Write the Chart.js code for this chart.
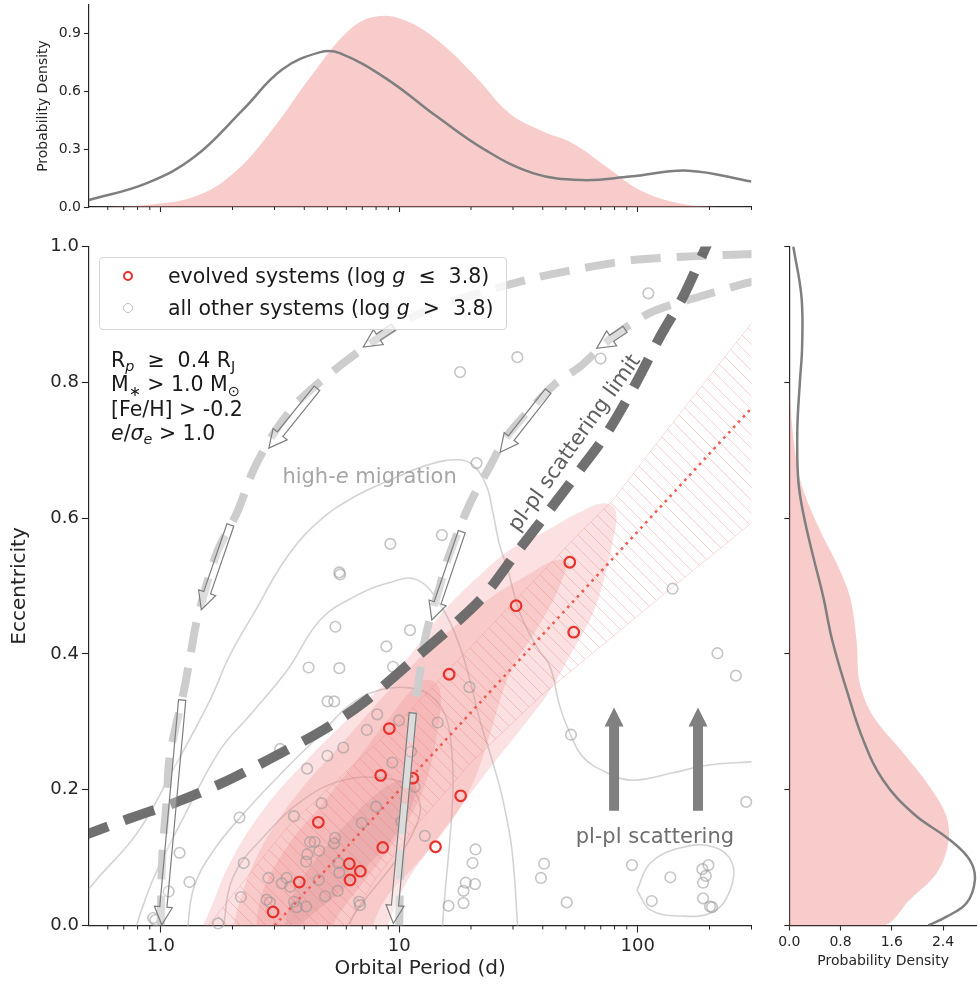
<!DOCTYPE html>
<html lang="en">
<head>
<meta charset="UTF-8">
<title>Eccentricity vs Orbital Period</title>
<script src="https://cdn.jsdelivr.net/npm/chart.js"></script>
<style>
  html, body { margin: 0; padding: 0; background: #fff; }
  body { font-family: 'DejaVu Sans', sans-serif; color: #1a1a1a; }
  #figure { position: relative; width: 977px; height: 986px; overflow: hidden; }
  #figure canvas { position: absolute; }
  #topChart { left: 0; top: 0; }
  #mainChart { left: 0; top: 230px; }
  #rightChart { left: 770px; top: 230px; }
  #legend { position: absolute; left: 99px; top: 257px; width: 406px; height: 71px;
    border: 1px solid #d6d6d6; border-radius: 4px; background: rgba(255,255,255,0.8); font-size: 20.5px; }
  #legend .row { position: absolute; left: 68px; height: 24px; line-height: 24px; white-space: nowrap; }
  #legend .mk { position: absolute; left: 23px; width: 10px; height: 10px; border-radius: 50%; box-sizing: border-box; }
  #cuts { position: absolute; left: 111px; top: 348px; font-size: 20.5px; line-height: 24.3px; white-space: nowrap; }
  #cuts sub { font-size: 0.7em; line-height: 0; vertical-align: baseline; position: relative; top: 0.3em; }
</style>
</head>
<body>
<div id="figure">
  <canvas id="topChart" width="770" height="230"></canvas>
  <canvas id="mainChart" width="770" height="756"></canvas>
  <canvas id="rightChart" width="207" height="756"></canvas>

  <div id="legend">
    <span class="mk" style="top:12.7px; border:2.2px solid #e8312a;"></span>
    <div class="row" style="top:5.7px;">evolved systems (log <i>g</i> &nbsp;≤&nbsp; 3.8)</div>
    <span class="mk" style="top:45.3px; border:1.6px solid rgba(150,150,150,0.6);"></span>
    <div class="row" style="top:38.3px;">all other systems (log <i>g</i> &nbsp;&gt;&nbsp; 3.8)</div>
  </div>

  <div id="cuts">
    R<sub><i>p</i></sub> &nbsp;≥&nbsp; 0.4 R<sub>J</sub><br>
    M<sub>∗</sub> &gt; 1.0 M<sub>⊙</sub><br>
    [Fe/H] &gt; -0.2<br>
    <i>e</i>/<i>σ</i><sub><i>e</i></sub> &gt; 1.0
  </div>
</div>

<script>
  const FONT = "'DejaVu Sans', sans-serif";
  const INK = '#262626';

  // axis ticks
  const periodMajor = [1, 10, 100];
  const periodMinor = [0.6, 0.7, 0.8, 0.9, 2, 3, 4, 5, 6, 7, 8, 9, 20, 30, 40, 50, 60, 70, 80, 90, 200, 300];
  const eccTicks = [0, 0.2, 0.4, 0.6, 0.8, 1.0];
  const topDensityTicks = [0, 0.3, 0.6, 0.9];
  const rightDensityTicks = [0, 0.8, 1.6, 2.4];

  // evolved systems (log g <= 3.8)
  const evolvedP = [51.9, 30.9, 53.9, 16.2, 9.09, 8.36, 11.4, 18.1, 4.58, 8.53, 14.2, 6.18, 6.87, 6.22, 3.81, 2.96];
  const evolvedE = [0.535, 0.471, 0.432, 0.370, 0.290, 0.221, 0.217, 0.191, 0.152, 0.115, 0.116, 0.091, 0.080, 0.067, 0.064, 0.020];

  // all other systems (log g > 3.8)
  const otherP = [110.8, 31.3, 18.0, 69.9, 9.18, 5.61, 5.65, 5.40, 11.1, 8.83, 4.17, 5.61, 9.42, 21.1, 15.1,
    216, 258, 52.5, 285, 40.5, 39.3, 50.4, 94.6, 137, 114.5, 186.6, 198, 193, 188, 188, 201, 205, 140,
    5.01, 5.34, 8.09, 9.98, 14.5, 7.31, 3.17, 5.83, 5.0, 9.36, 11.2, 4.11, 19.7, 11.6, 4.73, 8.0, 2.14, 3.62, 6.96, 10.2,
    12.8, 5.38, 4.23, 4.42, 4.62, 4.12, 5.33, 20.9, 20.3, 19.0, 20.8, 18.6, 18.6, 16.1, 4.07, 4.60, 4.89, 5.52, 5.61, 5.55,
    6.79, 6.85, 3.37, 3.49, 2.83, 3.22, 3.72, 2.78, 2.87, 4.07, 3.62, 2.23, 2.17, 1.74, 1.32, 1.20, 1.08, 0.93, 0.95];
  const otherE = [0.931, 0.837, 0.815, 0.835, 0.562, 0.520, 0.517, 0.440, 0.435, 0.411, 0.380, 0.379, 0.381, 0.681, 0.575,
    0.401, 0.368, 0.281, 0.182, 0.091, 0.070, 0.034, 0.089, 0.071, 0.036, 0.083, 0.089, 0.073, 0.063, 0.040, 0.028, 0.027, 0.496,
    0.330, 0.330, 0.311, 0.302, 0.299, 0.288, 0.260, 0.262, 0.250, 0.240, 0.256, 0.231, 0.351, 0.204, 0.180, 0.175, 0.159, 0.161, 0.151, 0.153,
    0.132, 0.129, 0.123, 0.123, 0.110, 0.105, 0.121, 0.112, 0.092, 0.063, 0.061, 0.051, 0.033, 0.029, 0.094, 0.067, 0.043, 0.051, 0.078, 0.092,
    0.035, 0.030, 0.070, 0.057, 0.070, 0.062, 0.027, 0.038, 0.034, 0.028, 0.035, 0.092, 0.042, 0.003, 0.064, 0.107, 0.050, 0.011, 0.008];

  // pl-pl scattering limit
  const limitP = [0.45, 0.506, 0.744, 1.17, 1.84, 2.82, 4.80, 7.06, 11.1, 21.8, 30.6, 42.1, 57.3, 74.3, 98.4, 124, 155, 188, 205];
  const limitE = [0.13, 0.136, 0.158, 0.182, 0.211, 0.244, 0.288, 0.328, 0.387, 0.479, 0.546, 0.609, 0.671, 0.725, 0.799, 0.867, 0.926, 0.990, 1.02];

  // high-e migration tracks
  const trackAP = [1.0, 1.015, 1.06, 1.09, 1.25, 1.33, 1.42, 1.72, 2.09, 2.45, 2.98, 3.83, 6.64, 11.8, 19.2, 36.3, 58.8, 95.5, 155, 251, 320];
  const trackAE = [0.0, 0.1, 0.185, 0.248, 0.345, 0.396, 0.450, 0.549, 0.608, 0.671, 0.725, 0.774, 0.843, 0.899, 0.926, 0.953, 0.968, 0.980, 0.985, 0.988, 0.989];
  const trackBP = [10.0, 10.15, 10.6, 11.4, 12.2, 13.0, 14.8, 15.8, 19.7, 24.0, 28.2, 36.3, 45.5, 57.3, 76.2, 112, 181, 285, 320];
  const trackBE = [0.0, 0.1, 0.2, 0.3, 0.37, 0.431, 0.499, 0.535, 0.62, 0.676, 0.720, 0.764, 0.799, 0.823, 0.863, 0.902, 0.926, 0.946, 0.95];

  // fitted trend of evolved systems and its band
  const fitP = [3.0, 300];
  const fitE = [0.0, 0.762];
  const bandP = [1.5, 3.4, 10, 57, 79, 123, 300, 330, 330, 300, 120, 38.9, 20, 12, 8, 5.8];
  const bandE = [-0.01, 0.145, 0.30, 0.578, 0.627, 0.715, 0.887, 0.92, 0.62, 0.593, 0.479, 0.337, 0.24, 0.15, 0.07, -0.01];

  // density levels of evolved systems (filled)
  const red1P = [1.46, 1.61, 1.95, 2.69, 4.11, 6.22, 8.98, 11.1, 15.3, 21.2, 29.1, 41.7, 57.3, 72.9, 81.1, 78.0, 72.9, 64.9, 53.0, 42.1, 32.1, 24.0, 18.0, 13.5, 10.6, 8.72];
  const red1E = [-0.01, 0.023, 0.092, 0.170, 0.244, 0.307, 0.362, 0.398, 0.462, 0.512, 0.553, 0.582, 0.609, 0.622, 0.609, 0.560, 0.516, 0.460, 0.403, 0.342, 0.288, 0.232, 0.173, 0.114, 0.060, -0.01];
  const red2P = [1.99, 2.15, 2.49, 3.01, 3.95, 5.81, 8.55, 10.6, 13.5, 18.0, 24.7, 34.4, 45.0, 50.1, 47.2, 42.1, 35.4, 29.7, 26.5, 23.6, 19.8, 15.6, 11.7, 8.72, 7.54];
  const red2E = [-0.01, 0.037, 0.096, 0.148, 0.204, 0.270, 0.337, 0.372, 0.409, 0.447, 0.485, 0.516, 0.538, 0.535, 0.501, 0.465, 0.421, 0.379, 0.332, 0.273, 0.200, 0.141, 0.089, 0.038, -0.01];
  const red3P = [2.49, 2.69, 3.48, 4.79, 6.65, 9.15, 11.3, 13.2, 14.8, 14.4, 12.6, 9.79, 7.05, 5.49, 5.13];
  const red3E = [-0.01, 0.052, 0.122, 0.180, 0.244, 0.307, 0.347, 0.362, 0.347, 0.283, 0.200, 0.130, 0.063, 0.013, -0.01];
  const red4P = [3.32, 3.59, 4.44, 5.93, 7.91, 10.1, 11.7, 11.3, 9.60, 7.40, 5.65, 4.44, 3.84];
  const red4E = [0.001, 0.045, 0.096, 0.148, 0.192, 0.214, 0.207, 0.177, 0.133, 0.089, 0.049, 0.020, 0.001];

  // density contours of all other systems (lines)
  const gray1P = [0.417, 0.525, 0.796, 1.14, 1.61, 1.95, 2.46, 3.39, 4.66, 6.46, 9.15, 13.1, 17.5, 20.4, 23.3, 24.7, 26.5, 28.3, 32.1, 37.8, 42.9, 47.2, 52.0, 59.0, 74.3, 95.6, 141, 195, 296, 395];
  const gray1E = [0.016, 0.063, 0.136, 0.233, 0.332, 0.398, 0.460, 0.543, 0.597, 0.631, 0.656, 0.678, 0.686, 0.678, 0.646, 0.608, 0.557, 0.528, 0.460, 0.410, 0.381, 0.322, 0.283, 0.248, 0.225, 0.214, 0.225, 0.236, 0.241, 0.244];
  const gray2P = [0.780, 0.819, 0.937, 1.25, 1.77, 2.37, 3.39, 4.66, 6.46, 8.89, 11.9, 15.3, 18.0, 19.8, 21.8, 24.5, 27.2, 29.7, 31.5];
  const gray2E = [-0.01, 0.016, 0.071, 0.160, 0.258, 0.310, 0.376, 0.450, 0.484, 0.504, 0.509, 0.465, 0.410, 0.361, 0.302, 0.244, 0.185, 0.111, -0.01];
  const gray3P = [1.29, 1.38, 1.67, 2.24, 3.16, 4.66, 6.22, 8.31, 11.1, 13.5, 15.6, 16.6, 16.8, 16.3, 15.6, 15.1];
  const gray3E = [-0.01, 0.057, 0.111, 0.166, 0.222, 0.281, 0.325, 0.347, 0.350, 0.339, 0.310, 0.258, 0.200, 0.126, 0.052, -0.01];
  const gray4P = [1.82, 2.01, 2.69, 3.95, 5.81, 8.55, 11.1, 12.2, 11.9, 10.4, 8.55, 7.33, 6.40, 6.04];
  const gray4E = [-0.01, 0.071, 0.130, 0.185, 0.214, 0.217, 0.204, 0.180, 0.151, 0.111, 0.071, 0.042, 0.013, -0.01];
  const gray5P = [99.3, 113, 150, 207, 249, 244, 207, 150, 113, 99.3];
  const gray5E = [0.052, 0.092, 0.114, 0.116, 0.092, 0.052, 0.020, 0.014, 0.023, 0.052];

  // arrows: [P tail, e tail, P head, e head]
  const migrationArrows = [
    [9.44, 0.881, 7.07, 0.852], [4.52, 0.791, 2.84, 0.703], [1.96, 0.590, 1.48, 0.465], [1.23, 0.332, 1.01, 0.001],
    [88.5, 0.878, 67.3, 0.850], [42.1, 0.787, 26.5, 0.697], [18.3, 0.580, 13.7, 0.450], [11.4, 0.313, 9.45, 0.003]
  ];
  const scatteringArrows = [[79.6, 0.169, 79.6, 0.321], [179, 0.169, 179, 0.321]];

  // marginal densities
  const topOtherP = [0.5, 0.87, 1.39, 2.21, 3.22, 4.67, 5.64, 8.98, 14.4, 22.9, 36.6, 58.2, 93.0, 163, 300];
  const topOtherD = [0.036, 0.123, 0.262, 0.505, 0.713, 0.805, 0.80, 0.661, 0.47, 0.297, 0.175, 0.14, 0.158, 0.189, 0.132];
  const topEvolvedP = [0.6, 0.87, 1.39, 2.02, 2.93, 4.26, 6.19, 7.99, 10.4, 14.4, 20.9, 29.0, 40.1, 53.3, 73.7, 102, 149, 217, 300];
  const topEvolvedD = [0, 0.01, 0.054, 0.175, 0.40, 0.678, 0.921, 0.99, 0.973, 0.869, 0.678, 0.487, 0.392, 0.331, 0.21, 0.088, 0.019, 0.0, 0];
  const rightOtherE = [1.0, 0.926, 0.852, 0.803, 0.730, 0.656, 0.607, 0.543, 0.484, 0.42, 0.347, 0.273, 0.214, 0.165, 0.126, 0.096, 0.067, 0.033, 0.013, 0.0];
  const rightOtherD = [0.062, 0.19, 0.20, 0.167, 0.125, 0.14, 0.218, 0.374, 0.53, 0.67, 0.895, 1.155, 1.466, 1.934, 2.507, 2.82, 2.897, 2.767, 2.455, 2.17];
  const rightEvolvedE = [0.86, 0.779, 0.681, 0.641, 0.582, 0.533, 0.484, 0.42, 0.357, 0.308, 0.254, 0.204, 0.160, 0.121, 0.077, 0.038, 0.0];
  const rightEvolvedD = [0.0, 0.01, 0.115, 0.218, 0.479, 0.74, 0.947, 1.05, 1.10, 1.31, 1.78, 2.195, 2.455, 2.48, 2.30, 1.88, 1.466];

  // text placed in the plot, in data coordinates
  const annotations = [
    { parts: [['high-'], ['e', true], [' migration']], p: 7.51, e: 0.660, size: 21, color: '#a6a6a6', rot: 0 },
    { parts: [['pl-pl scattering limit']], p: 54.6, e: 0.710, size: 21, color: '#5e5e5e', rot: -54.5 },
    { parts: [['pl-pl scattering']], p: 118, e: 0.130, size: 21, color: '#6e6e6e', rot: 0 }
  ];

  const pts = (xs, ys) => xs.map((x, i) => ({ x, y: ys[i] }));

  function hatchPattern(ctx) {
    const n = 13;
    const c = document.createElement('canvas');
    c.width = n; c.height = n;
    const g = c.getContext('2d');
    g.strokeStyle = 'rgba(238,110,110,0.32)';
    g.lineWidth = 1;
    g.beginPath();
    g.moveTo(0, 0); g.lineTo(n, n);
    g.moveTo(-n / 2, n / 2); g.lineTo(n / 2, n * 1.5);
    g.moveTo(n / 2, -n / 2); g.lineTo(n * 1.5, n / 2);
    g.stroke();
    return ctx.createPattern(c, 'repeat');
  }

  function arrowPath(ctx, x0, y0, x1, y1, w, hw, hl) {
    const dx = x1 - x0, dy = y1 - y0, L = Math.hypot(dx, dy);
    const ux = dx / L, uy = dy / L, nx = -uy, ny = ux;
    const bx = x1 - ux * hl, by = y1 - uy * hl;
    ctx.beginPath();
    ctx.moveTo(x0 + nx * w, y0 + ny * w);
    ctx.lineTo(bx + nx * w, by + ny * w);
    ctx.lineTo(bx + nx * hw, by + ny * hw);
    ctx.lineTo(x1, y1);
    ctx.lineTo(bx - nx * hw, by - ny * hw);
    ctx.lineTo(bx - nx * w, by - ny * w);
    ctx.lineTo(x0 - nx * w, y0 - ny * w);
    ctx.closePath();
  }

  function drawRich(ctx, parts, cx, cy, size, color, rot) {
    ctx.save();
    ctx.translate(cx, cy);
    ctx.rotate(rot * Math.PI / 180);
    ctx.fillStyle = color;
    ctx.textBaseline = 'middle';
    const fonts = parts.map(p => (p[1] ? 'italic ' : '') + size + 'px ' + FONT);
    const widths = parts.map((p, i) => { ctx.font = fonts[i]; return ctx.measureText(p[0]).width; });
    let x = -widths.reduce((a, b) => a + b, 0) / 2;
    parts.forEach((p, i) => { ctx.font = fonts[i]; ctx.fillText(p[0], x, 0); x += widths[i]; });
    ctx.restore();
  }

  // short minor ticks on a log x axis
  const minorTicks = {
    id: 'minorTicks',
    afterDraw(chart, args, opts) {
      const s = chart.scales.x, ctx = chart.ctx;
      ctx.save();
      ctx.strokeStyle = INK;
      ctx.lineWidth = 1;
      opts.values.forEach(v => {
        const px = s.getPixelForValue(v);
        if (px < s.left - 0.5 || px > s.right + 0.5) return;
        ctx.beginPath();
        ctx.moveTo(px, s.top);
        ctx.lineTo(px, s.top + opts.len);
        ctx.stroke();
      });
      ctx.restore();
    }
  };

  const overlay = {
    id: 'overlay',
    afterDatasetsDraw(chart) {
      const { ctx, chartArea: a, scales: { x, y } } = chart;
      ctx.save();
      ctx.beginPath();
      ctx.rect(a.left, a.top, a.right - a.left, a.bottom - a.top);
      ctx.clip();
      migrationArrows.forEach(([p0, e0, p1, e1]) => {
        arrowPath(ctx, x.getPixelForValue(p0), y.getPixelForValue(e0), x.getPixelForValue(p1), y.getPixelForValue(e1), 3.6, 9, 18);
        ctx.fillStyle = 'rgba(255,255,255,0.3)';
        ctx.fill();
        ctx.strokeStyle = '#7d7d7d';
        ctx.lineWidth = 1.2;
        ctx.stroke();
      });
      scatteringArrows.forEach(([p0, e0, p1, e1]) => {
        arrowPath(ctx, x.getPixelForValue(p0), y.getPixelForValue(e0), x.getPixelForValue(p1), y.getPixelForValue(e1), 5, 9.5, 19);
        ctx.fillStyle = '#808080';
        ctx.fill();
      });
      annotations.forEach(t => drawRich(ctx, t.parts, x.getPixelForValue(t.p), y.getPixelForValue(t.e), t.size, t.color, t.rot));
      ctx.restore();
    }
  };

  const fixSize = size => s => {
    if (s.isHorizontal()) s.height = size; else s.width = size;
    s.paddingLeft = s.paddingRight = s.paddingTop = s.paddingBottom = 0;
  };
  const setTicks = values => s => { s.ticks = values.map(v => ({ value: v })); };
  const oneDecimal = v => v.toFixed(1);

  function axis(extra, fontSize, tickLen, showLabels, labelFn) {
    return Object.assign({
      grid: { display: true, drawOnChartArea: false, drawTicks: true, tickLength: tickLen, tickColor: INK, tickWidth: 1.1 },
      border: { display: true, color: INK, width: 1.2 },
      ticks: { display: showLabels, color: INK, font: { family: FONT, size: fontSize }, padding: 3, maxRotation: 0, autoSkip: false, callback: labelFn }
    }, extra);
  }

  const common = { responsive: false, animation: false, events: [] };

  // ---------- main scatter ----------
  const mainCtx = document.getElementById('mainChart').getContext('2d');
  const curve = (xs, ys, extra) => Object.assign({ data: pts(xs, ys), showLine: true, pointRadius: 0, tension: 0.4, fill: false, clip: 0 }, extra);
  const contourLine = { borderColor: 'rgba(200,200,200,0.8)', borderWidth: 1.6 };
  const redLevel = { fill: 'shape', backgroundColor: 'rgba(240,128,128,0.24)', borderColor: 'rgba(0,0,0,0)', borderWidth: 0 };
  const hollow = (color, w) => ({ showLine: false, pointRadius: 5.3, pointBorderWidth: w, pointBorderColor: color, pointBackgroundColor: 'rgba(0,0,0,0)', clip: false });

  const mainSets = [
    curve(gray1P, gray1E, contourLine),
    curve(gray2P, gray2E, contourLine),
    curve(gray3P, gray3E, contourLine),
    curve(gray4P, gray4E, contourLine),
    curve(gray5P, gray5E, contourLine),
    curve(red1P, red1E, redLevel),
    curve(red2P, red2E, redLevel),
    curve(red3P, red3E, redLevel),
    curve(red4P, red4E, Object.assign({}, redLevel, { backgroundColor: 'rgba(185,120,120,0.2)' })),
    curve(bandP, bandE, { tension: 0, fill: 'shape', backgroundColor: hatchPattern(mainCtx), borderColor: 'rgba(240,128,128,0.28)', borderWidth: 1 }),
    curve(fitP, fitE, { tension: 0, borderColor: '#ef5b50', borderWidth: 2.6, borderDash: [2.6, 4.6] }),
    Object.assign({ data: pts(otherP, otherE) }, hollow('rgba(150,150,150,0.55)', 1.6)),
    Object.assign({ data: pts(evolvedP, evolvedE) }, hollow('#e8312a', 2.2)),
    curve(trackAP, trackAE, { borderColor: '#cdcdcd', borderWidth: 8, borderDash: [30, 16], tension: 0.3 }),
    curve(trackBP, trackBE, { borderColor: '#cdcdcd', borderWidth: 8, borderDash: [30, 16], tension: 0.3 }),
    curve(limitP, limitE, { borderColor: 'rgba(100,100,100,0.92)', borderWidth: 10, borderDash: [32, 17], tension: 0.3 })
  ];
  mainSets.forEach((d, i) => { d.order = -i; });

  new Chart(mainCtx, {
    type: 'scatter',
    data: { datasets: mainSets },
    options: Object.assign({}, common, {
      layout: { padding: { left: 0, right: 18.5, top: 16.5, bottom: 0 } },
      plugins: { legend: { display: false }, tooltip: { enabled: false }, minorTicks: { values: periodMinor, len: 4 } },
      scales: {
        x: axis({
          type: 'logarithmic', min: 0.5, max: 300, position: 'bottom',
          afterBuildTicks: setTicks(periodMajor), afterFit: fixSize(60.5),
          title: { display: true, text: 'Orbital Period (d)', color: INK, font: { family: FONT, size: 20 }, padding: { top: 0, bottom: 5 } }
        }, 18, 7, true, v => (v === 1 ? '1.0' : String(v))),
        y: axis({
          type: 'linear', min: 0, max: 1,
          afterBuildTicks: setTicks(eccTicks), afterFit: fixSize(88.9),
          title: { display: true, text: 'Eccentricity', color: INK, font: { family: FONT, size: 20 }, padding: { top: 8, bottom: 0 } }
        }, 18, 7, true, oneDecimal)
      }
    }),
    plugins: [minorTicks, overlay]
  });

  // ---------- top marginal ----------
  new Chart(document.getElementById('topChart'), {
    type: 'scatter',
    data: {
      datasets: [
        { data: pts(topEvolvedP, topEvolvedD), showLine: true, fill: 'origin', backgroundColor: 'rgba(240,128,128,0.4)',
          borderColor: 'rgba(0,0,0,0)', borderWidth: 0, pointRadius: 0, tension: 0.4, clip: 0, order: 2 },
        { data: pts(topOtherP, topOtherD), showLine: true, fill: false, borderColor: '#7f7f7f', borderWidth: 2.5,
          pointRadius: 0, tension: 0.4, clip: 0, order: 1 }
      ]
    },
    options: Object.assign({}, common, {
      layout: { padding: { left: 0, right: 18.5, top: 5, bottom: 0 } },
      plugins: { legend: { display: false }, tooltip: { enabled: false }, minorTicks: { values: periodMinor, len: 3 } },
      scales: {
        x: axis({ type: 'logarithmic', min: 0.5, max: 300, afterBuildTicks: setTicks(periodMajor), afterFit: fixSize(23) }, 14, 5, false),
        y: axis({
          type: 'linear', min: 0, max: 1.05, afterBuildTicks: setTicks(topDensityTicks), afterFit: fixSize(88.9),
          title: { display: true, text: 'Probability Density', color: INK, font: { family: FONT, size: 14 }, padding: { top: 34.6, bottom: 0 } }
        }, 14, 5, true, oneDecimal)
      }
    }),
    plugins: [minorTicks]
  });

  // ---------- right marginal ----------
  const rightFill = [{ x: 0, y: rightEvolvedE[0] }].concat(pts(rightEvolvedD, rightEvolvedE), [{ x: 0, y: 0 }]);
  new Chart(document.getElementById('rightChart'), {
    type: 'scatter',
    data: {
      datasets: [
        { data: rightFill, showLine: true, fill: 'shape', backgroundColor: 'rgba(240,128,128,0.4)',
          borderColor: 'rgba(0,0,0,0)', borderWidth: 0, pointRadius: 0, tension: 0.35, clip: 0, order: 2 },
        { data: pts(rightOtherD, rightOtherE), showLine: true, fill: false, borderColor: '#7f7f7f', borderWidth: 2.5,
          pointRadius: 0, tension: 0.4, clip: 0, order: 1 }
      ]
    },
    options: Object.assign({}, common, {
      layout: { padding: { left: 0, right: 0, top: 16.5, bottom: 0 } },
      plugins: { legend: { display: false }, tooltip: { enabled: false } },
      scales: {
        x: axis({
          type: 'linear', min: 0, max: 2.93, afterBuildTicks: setTicks(rightDensityTicks), afterFit: fixSize(60.5),
          title: { display: true, text: 'Probability Density', color: INK, font: { family: FONT, size: 14 }, padding: { top: 0, bottom: 16.6 } }
        }, 14, 5, true, oneDecimal),
        y: axis({ type: 'linear', min: 0, max: 1, afterBuildTicks: setTicks(eccTicks), afterFit: fixSize(19.3) }, 14, 5, false)
      }
    })
  });
</script>
</body>
</html>
